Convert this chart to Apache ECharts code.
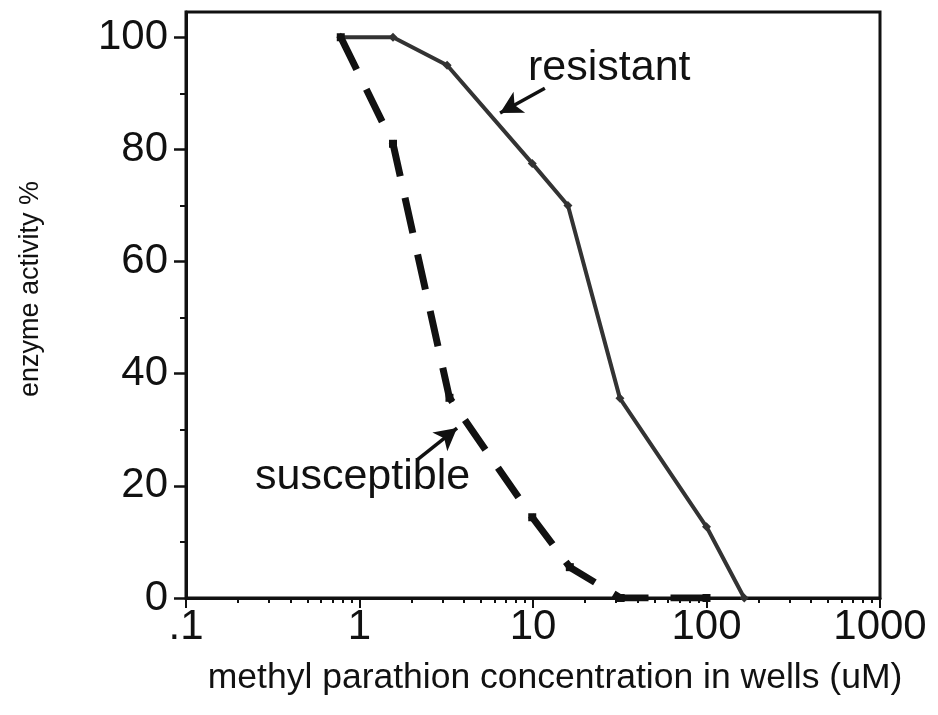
<!DOCTYPE html>
<html>
<head>
<meta charset="UTF-8">
<title>enzyme activity vs methyl parathion</title>
<script src="https://cdn.jsdelivr.net/npm/echarts@6.0.0/dist/echarts.min.js"></script>
<style>
  html, body { margin: 0; padding: 0; background: #fff; }
  #chart { width: 938px; height: 715px; }
</style>
</head>
<body>
<div id="chart"></div>
<script>
// values (x in uM, y in %)
const concResistant = [0.78, 1.56, 3.2, 9.9, 15.9, 31.7, 100, 165];
const actResistant = [100, 100, 95, 77.5, 70, 35.6, 12.7, 0];
const concSusceptible = [0.78, 1.56, 3.3, 9.9, 16.3, 32, 100];
const actSusceptible = [100, 81, 35.7, 14.4, 5.5, 0, 0];

const xTickLabels = ['.1', '1', '10', '100', '1000'];
const yTicks = [0, 20, 40, 60, 80, 100];

// arrow annotations, [tail, head] in data coords
const arrowResistant = [[11.7, 90.9], [6.46, 86.5]];
const arrowSusceptible = [[2.14, 24.6], [3.65, 30.3]];

const font = "'Liberation Sans', Arial, sans-serif";
const ink = '#111';

const chart = echarts.init(document.getElementById('chart'));

function pairs(xs, ys) {
    return xs.map((x, i) => [x, ys[i]]);
}

function arrow(a) {
    return [{ coord: a[0] }, { coord: a[1] }];
}

chart.setOption({
    animation: false,
    textStyle: { fontFamily: font },
    grid: {
        left: 186, right: 58, top: 12, bottom: 117,
        show: true, borderColor: ink, borderWidth: 3
    },
    xAxis: {
        type: 'log', logBase: 10, min: 0.1, max: 1000,
        axisLine: { show: true, lineStyle: { color: ink, width: 3 } },
        axisTick: { show: true, length: 10, lineStyle: { color: ink, width: 2 } },
        minorTick: { show: true, splitNumber: 9, length: 5, lineStyle: { color: ink, width: 2 } },
        axisLabel: {
            fontSize: 42, margin: 8, color: ink, fontFamily: font,
            formatter: (v, i) => xTickLabels[i]
        },
        splitLine: { show: false },
        name: 'methyl parathion concentration in wells (uM)',
        nameLocation: 'middle', nameGap: 62,
        nameTextStyle: { fontSize: 35.5, color: ink, fontFamily: font, padding: [0, 0, 0, 44] }
    },
    yAxis: {
        type: 'value', min: 0, max: 104.5, interval: 20,
        axisLine: { show: true, lineStyle: { color: ink, width: 3 } },
        axisTick: { show: true, length: 12, customValues: yTicks, lineStyle: { color: ink, width: 2.5 } },
        minorTick: { show: true, splitNumber: 2, length: 6, lineStyle: { color: ink, width: 2 } },
        axisLabel: { fontSize: 42, margin: 18, color: ink, fontFamily: font, customValues: yTicks },
        splitLine: { show: false },
        name: 'enzyme activity %',
        nameLocation: 'middle', nameGap: 142,
        nameTextStyle: { fontSize: 27, color: ink, fontFamily: font, padding: [0, 0, 0, 32] }
    },
    series: [
        {
            name: 'resistant',
            type: 'line',
            data: pairs(concResistant, actResistant),
            symbol: 'diamond', symbolSize: 9,
            itemStyle: { color: '#333' },
            lineStyle: { color: '#333', width: 4 },
            markLine: {
                silent: true,
                symbol: ['none', 'arrow'], symbolSize: [18, 22],
                label: { show: false },
                lineStyle: { type: 'solid', color: ink, width: 3.5 },
                data: [arrow(arrowResistant)]
            }
        },
        {
            name: 'susceptible',
            type: 'line',
            data: pairs(concSusceptible, actSusceptible),
            symbol: 'rect', symbolSize: 8,
            itemStyle: { color: ink },
            lineStyle: { color: ink, width: 7, type: [36, 22], cap: 'butt' },
            markLine: {
                silent: true,
                symbol: ['none', 'arrow'], symbolSize: [18, 22],
                label: { show: false },
                lineStyle: { type: 'solid', color: ink, width: 3.5 },
                data: [arrow(arrowSusceptible)]
            }
        }
    ],
    graphic: [
        {
            type: 'text', x: 528, y: 68,
            style: { text: 'resistant', fontSize: 43, fontFamily: font, fill: ink, verticalAlign: 'middle' }
        },
        {
            type: 'text', x: 255, y: 477,
            style: { text: 'susceptible', fontSize: 43, fontFamily: font, fill: ink, verticalAlign: 'middle' }
        }
    ]
});
</script>
</body>
</html>
